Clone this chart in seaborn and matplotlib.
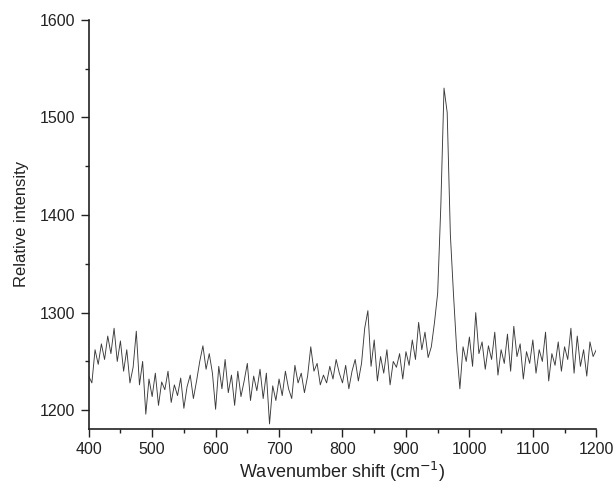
import numpy as np
import pandas as pd
import matplotlib
matplotlib.use("Agg")
import matplotlib.pyplot as plt
from matplotlib.ticker import MultipleLocator
import seaborn as sns

# wavenumber grid, 5 cm-1 steps
wavenumber = np.arange(400, 1201, 5)

intensity = [
    1235, 1228, 1262, 1247, 1268, 1252, 1276, 1258, 1284, 1250,
    1271, 1240, 1262, 1228, 1244, 1281, 1226, 1250, 1196, 1232,
    1214, 1238, 1205, 1229, 1221, 1240, 1208, 1226, 1215, 1233,
    1202, 1224, 1236, 1212, 1230, 1250, 1266, 1242, 1258, 1238,
    1201, 1245, 1222, 1252, 1218, 1236, 1205, 1240, 1214, 1230,
    1248, 1210, 1235, 1220, 1242, 1212, 1238, 1186, 1225, 1210,
    1232, 1215, 1240, 1222, 1212, 1246, 1228, 1238, 1218, 1235,
    1265, 1240, 1248, 1226, 1236, 1228, 1245, 1232, 1252, 1238,
    1228, 1246, 1222, 1240, 1252, 1230, 1248, 1284, 1302, 1245,
    1272, 1230, 1255, 1238, 1262, 1226, 1250, 1244, 1258, 1232,
    1260, 1246, 1272, 1252, 1290, 1262, 1280, 1254, 1265, 1290,
    1320, 1410, 1530, 1505, 1380, 1318, 1262, 1222, 1265, 1250,
    1275, 1245, 1300, 1258, 1270, 1242, 1266, 1252, 1280, 1236,
    1262, 1248, 1278, 1240, 1286, 1255, 1268, 1232, 1260, 1248,
    1272, 1238, 1262, 1250, 1280, 1230, 1258, 1246, 1270, 1240,
    1265, 1252, 1284, 1238, 1276, 1245, 1262, 1235, 1270, 1255,
    1262,
]

df = pd.DataFrame({"shift": wavenumber, "intensity": intensity})

sns.set_theme(style="ticks")
plt.rcParams["font.family"] = ["Liberation Sans", "DejaVu Sans"]

fig = plt.figure(figsize=(6.16, 4.94), dpi=100)
ax = fig.add_axes([0.144, 0.132, 0.824, 0.828])

sns.lineplot(data=df, x="shift", y="intensity", color="#3a3a3a", linewidth=0.65, ax=ax)

ax.set_xlim(400, 1200)
ax.set_ylim(1181, 1600)
ax.xaxis.set_major_locator(MultipleLocator(100))
ax.xaxis.set_minor_locator(MultipleLocator(50))
ax.yaxis.set_major_locator(MultipleLocator(100))
ax.yaxis.set_minor_locator(MultipleLocator(50))
ax.tick_params(which="major", direction="out", length=6, width=1, labelsize=11.5,
               colors="#222222", pad=3.5)
ax.tick_params(which="minor", direction="out", length=3, width=1, colors="#222222")

for side in ["top", "right"]:
    ax.spines[side].set_visible(False)
for side in ["left", "bottom"]:
    ax.spines[side].set_linewidth(1.2)
    ax.spines[side].set_color("#222222")

ax.set_xlabel("Wavenumber shift (cm$^{-1}$)", fontsize=13, color="#222222", labelpad=2)
ax.set_ylabel("Relative intensity", fontsize=12, color="#222222", labelpad=8)

fig.savefig("out.png", dpi=100)
